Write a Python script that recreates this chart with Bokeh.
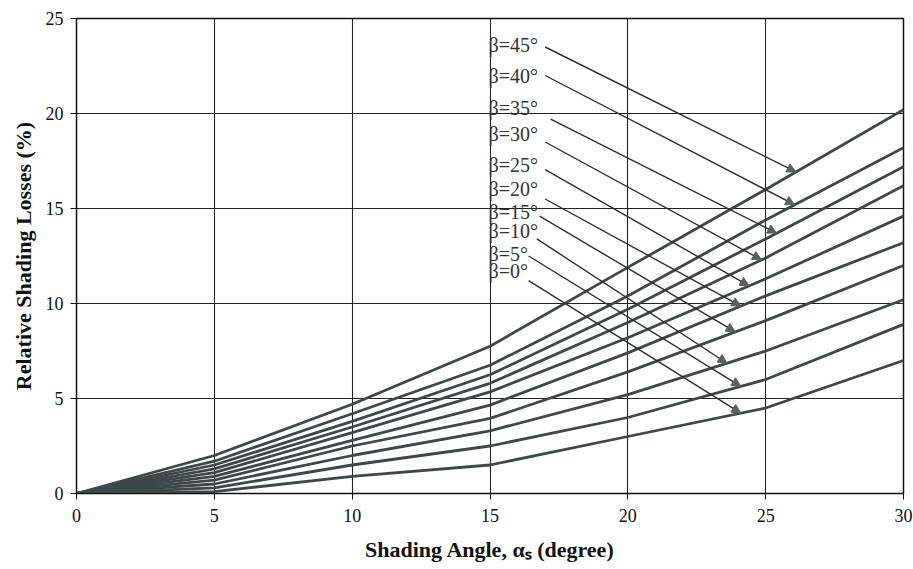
import numpy as np
from bokeh.plotting import figure
from bokeh.models import Range1d, ColumnDataSource, Arrow, NormalHead, FixedTicker
from bokeh.core.properties import value
from bokeh.embed import file_html
from bokeh.resources import INLINE

# ---- data ----
shading_angle = [0, 5, 10, 15, 20, 25, 30]
beta_labels = ["β=0°", "β=5°", "β=10°", "β=15°", "β=20°", "β=25°", "β=30°", "β=35°", "β=40°", "β=45°"]
loss_b0 = [0, 0.1, 0.9, 1.5, 3.0, 4.5, 7.0]
loss_b5 = [0, 0.3, 1.5, 2.5, 4.0, 6.0, 8.9]
loss_b10 = [0, 0.5, 2.0, 3.3, 5.2, 7.5, 10.2]
loss_b15 = [0, 0.7, 2.5, 3.95, 6.4, 9.1, 12.0]
loss_b20 = [0, 0.9, 2.8, 4.65, 7.4, 10.4, 13.2]
loss_b25 = [0, 1.1, 3.2, 5.35, 8.2, 11.3, 14.6]
loss_b30 = [0, 1.3, 3.5, 5.8, 9.0, 12.4, 16.2]
loss_b35 = [0, 1.5, 3.8, 6.25, 9.7, 13.4, 17.2]
loss_b40 = [0, 1.7, 4.2, 6.75, 10.4, 14.4, 18.2]
loss_b45 = [0, 2.0, 4.7, 7.75, 11.9, 16.0, 20.2]
x_ticks = [0, 5, 10, 15, 20, 25, 30]
y_ticks = [0, 5, 10, 15, 20, 25]

series = [loss_b0, loss_b5, loss_b10, loss_b15, loss_b20,
          loss_b25, loss_b30, loss_b35, loss_b40, loss_b45]

# ---- annotation layout (label anchors and arrow targets) ----
label_x = [14.95] * 10
label_y = [11.7, 12.6, 13.8, 14.8, 16.05, 17.3, 18.9, 20.3, 22.0, 23.6]
arrow_x0 = [16.4, 16.4, 16.7, 16.8, 17.0, 17.0, 17.0, 17.2, 17.0, 17.0]
arrow_y0 = [11.2, 12.5, 13.4, 14.6, 15.5, 17.05, 18.5, 19.7, 22.0, 23.5]
arrow_x1 = [24.1, 24.1, 23.6, 23.9, 24.1, 24.4, 24.85, 25.4, 26.05, 26.1]

SERIF = "Liberation Serif"
CURVE = "#3e4848"

p = figure(width=913, height=569, output_backend="svg", toolbar_location=None,
           x_range=Range1d(0, 30), y_range=Range1d(0, 25))
p.min_border_left = 76
p.min_border_right = 10
p.min_border_top = 18
p.min_border_bottom = 76
p.background_fill_color = "white"
p.border_fill_color = "white"
p.outline_line_color = "#111111"
p.outline_line_width = 1.5

for ys in series:
    p.line(shading_angle, ys, line_color=CURVE, line_width=2.8)

# arrows from labels to curves
arrow_y1 = [float(np.interp(x1, shading_angle, ys)) for x1, ys in zip(arrow_x1, series)]
src = ColumnDataSource(dict(x0=arrow_x0, y0=arrow_y0, x1=arrow_x1, y1=arrow_y1))
p.add_layout(Arrow(end=NormalHead(size=9, fill_color="#5a5f5f", line_color="#5a5f5f"),
                   x_start="x0", y_start="y0", x_end="x1", y_end="y1",
                   line_color="#2e2e2e", line_width=1.4, source=src))

p.text(x=label_x, y=label_y, text=beta_labels, text_font=value(SERIF),
       text_font_size="20px", text_baseline="middle", text_align="left",
       text_color="#333333")

for ax in (p.xaxis[0], p.yaxis[0]):
    ax.major_label_text_font = SERIF
    ax.major_label_text_font_size = "18px"
    ax.major_label_text_color = "#111111"
    ax.axis_label_text_font = SERIF
    ax.axis_label_text_font_size = "22px"
    ax.axis_label_text_font_style = "bold"
    ax.axis_label_text_color = "#111111"
    ax.minor_tick_line_color = None
    ax.major_tick_in = 0
    ax.major_tick_out = 6
    ax.major_tick_line_color = "#111111"
    ax.axis_line_color = "#111111"

p.xaxis.ticker = FixedTicker(ticks=x_ticks)
p.yaxis.ticker = FixedTicker(ticks=y_ticks)
p.xaxis.axis_label = "Shading Angle, αₛ (degree)"
p.yaxis.axis_label = "Relative Shading Losses (%)"
p.xaxis.major_label_standoff = 9
p.xaxis.axis_label_standoff = 12
p.yaxis.major_label_standoff = 7
p.yaxis.axis_label_standoff = 7

p.xgrid.ticker = FixedTicker(ticks=x_ticks)
p.ygrid.ticker = FixedTicker(ticks=y_ticks)
p.grid.grid_line_color = "#222222"
p.grid.grid_line_width = 1.1
p.grid.grid_line_alpha = 1.0

open("out.html", "w").write(file_html(p, INLINE))
